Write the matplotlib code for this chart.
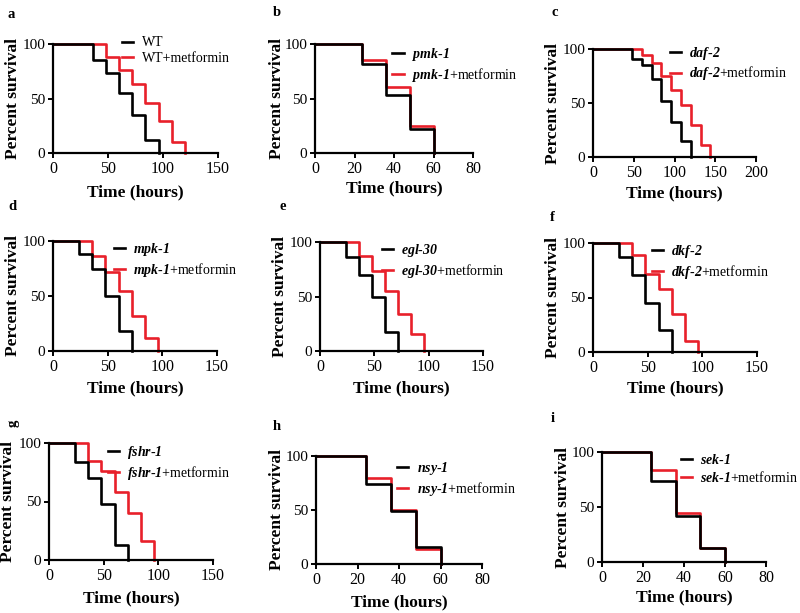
import numpy as np
import matplotlib
matplotlib.use("Agg")
import matplotlib.pyplot as plt

plt.rcParams["font.family"] = ["Liberation Serif", "DejaVu Serif"]
plt.rcParams["mathtext.fontset"] = "custom"
plt.rcParams["mathtext.rm"] = "Liberation Serif"
plt.rcParams["mathtext.sf"] = "Liberation Serif:style=italic:weight=bold"

# ---- survival data (hours, percent) ----
genes = ["WT", "pmk-1", "daf-2", "mpk-1", "egl-30", "dkf-2", "fshr-1", "nsy-1", "sek-1"]
letters = ["a", "b", "c", "d", "e", "f", "g", "h", "i"]

ctrl_t = [
    [0, 36, 48, 60, 72, 84, 96],
    [0, 24, 36, 48, 60],
    [0, 48, 60, 72, 84, 96, 108, 120],
    [0, 24, 36, 48, 60, 72],
    [0, 24, 36, 48, 60, 72],
    [0, 24, 36, 48, 60, 72],
    [0, 24, 36, 48, 60, 72],
    [0, 24, 36, 48, 60],
    [0, 24, 36, 48, 60],
]
ctrl_s = [
    [100, 85, 73, 55, 35, 12, 0],
    [100, 82, 53, 22, 0],
    [100, 91, 85, 72, 52, 32, 15, 0],
    [100, 88, 75, 50, 18, 0],
    [100, 86, 70, 50, 17, 0],
    [100, 87, 71, 45, 20, 0],
    [100, 84, 70, 48, 13, 0],
    [100, 74, 49, 16, 0],
    [100, 74, 42, 13, 0],
]
met_t = [
    [0, 48, 60, 72, 84, 96, 108, 120],
    [0, 24, 36, 48, 60],
    [0, 60, 72, 84, 96, 108, 120, 132, 144],
    [0, 36, 48, 60, 72, 84, 96],
    [0, 36, 48, 60, 72, 84, 96],
    [0, 36, 48, 60, 72, 84, 96],
    [0, 36, 48, 60, 72, 84, 96],
    [0, 24, 36, 48, 60],
    [0, 24, 36, 48, 60],
]
met_s = [
    [100, 88, 76, 63, 46, 29, 10, 0],
    [100, 85, 61, 25, 0],
    [100, 94, 87, 75, 62, 48, 30, 11, 0],
    [100, 86, 72, 55, 32, 12, 0],
    [100, 87, 73, 55, 34, 16, 0],
    [100, 89, 72, 58, 35, 10, 0],
    [100, 85, 76, 58, 40, 16, 0],
    [100, 80, 50, 14, 0],
    [100, 84, 45, 13, 0],
]
xmax = [150, 80, 200, 150, 150, 150, 150, 80, 80]
xstep = [50, 20, 50, 50, 50, 50, 50, 20, 20]

# ---- layout in pixels ----
W, H = 800, 613
boxes = [  # left, top, right, bottom
    (53, 44, 218, 153), (315, 44, 473, 153), (593, 49, 756, 157),
    (53, 241, 217, 351), (320, 242, 483, 351), (593, 243, 757, 352),
    (49, 443, 213, 560), (316, 456, 482, 564), (602, 452, 766, 562),
]
leg_pos = [(0.42, 1.07), (0.49, 0.98), (0.47, 1.04), (0.37, 1.0), (0.38, 1.0),
           (0.36, 1.0), (0.36, 0.99), (0.49, 0.96), (0.48, 0.99)]
ylab_x = [13, 277, 553, 13, 280, 553, 8, 277, 563]
xlab_y = [192, 188, 193, 388, 388, 388, 598, 602, 597]
letter_xy = [(11, 15), (277, 13), (555, 13), (12, 207), (283, 207), (552, 217),
             (13, 423), (277, 427), (553, 418)]

fig = plt.figure(figsize=(W / 100, H / 100), dpi=100)

for k in range(9):
    l, t, r, b = boxes[k]
    ax = fig.add_axes([l / W, 1 - b / H, (r - l) / W, (b - t) / H])
    g = genes[k]
    if g == "WT":
        lab1, lab2 = "WT", "WT+metformin"
    else:
        name, num = g.split("-")
        gl = r"$\mathsf{%s}$-$\mathsf{%s}$" % (name, num)
        lab1, lab2 = gl, gl + "+metformin"
    ax.step(ctrl_t[k], ctrl_s[k], where="post", color="black", lw=1.9, clip_on=False,
            label=lab1, zorder=3)
    ax.step(met_t[k], met_s[k], where="post", color="#e8202a", lw=1.9, clip_on=False,
            label=lab2, zorder=2)
    ax.set_xlim(0, xmax[k])
    ax.set_ylim(0, 100)
    ax.set_xticks(np.arange(0, xmax[k] + 1, xstep[k]))
    ax.set_yticks([0, 50, 100])
    for s in ["top", "right"]:
        ax.spines[s].set_visible(False)
    for s in ["left", "bottom"]:
        ax.spines[s].set_linewidth(1.6)
    ax.tick_params(width=1.4, length=3.5, pad=2)
    ax.tick_params(axis="x", labelsize=11.5)
    ax.tick_params(axis="y", labelsize=11)
    ax.set_ylabel("Percent survival", fontsize=12.5, fontweight="bold", va="center")
    ax.set_xlabel("Time (hours)", fontsize=12.5, fontweight="bold", va="center")
    ax.yaxis.set_label_coords((ylab_x[k] - l) / (r - l), 0.5)
    ax.xaxis.set_label_coords(0.5, (b - xlab_y[k]) / (b - t))
    ax.legend(loc="upper left", bbox_to_anchor=leg_pos[k], frameon=False,
              borderpad=0, borderaxespad=0, handlelength=0.8, handletextpad=0.6,
              labelspacing=0.2, fontsize=10)
    lx, ly = letter_xy[k]
    fig.text(lx / W, 1 - ly / H, letters[k], fontsize=10.5, fontweight="bold",
             ha="center", va="center", rotation=90 if letters[k] == "g" else 0)

fig.savefig("out.png", dpi=100)
